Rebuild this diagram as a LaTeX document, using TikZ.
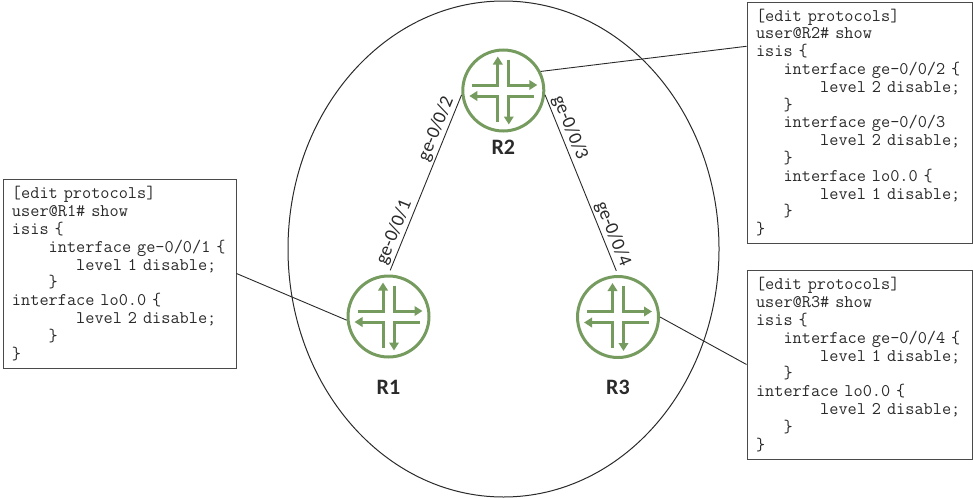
\documentclass[tikz,border=0pt]{standalone}
\usepackage{fontspec}
\newfontfamily\codefont{Latin Modern Mono}
\newfontfamily\labfont{Carlito}
\usetikzlibrary{shapes.geometric,arrows.meta}
\definecolor{rgreen}{HTML}{769B5F}
\definecolor{ink}{HTML}{2A2A2A}
\newcommand\ind[1]{\hspace*{#1\fontcharwd\font`0 }}
\newcommand\routerx[1]{%
  \draw[xarrow] ([shift={(-31,-5.5)}]#1.center) -- ([shift={(-5.5,-5.5)}]#1.center) -- ([shift={(-5.5,-34)}]#1.center);
  \draw[xarrow] ([shift={(5.5,-31)}]#1.center) -- ([shift={(5.5,-5.5)}]#1.center) -- ([shift={(34,-5.5)}]#1.center);
  \draw[xarrow] ([shift={(-5.5,31)}]#1.center) -- ([shift={(-5.5,5.5)}]#1.center) -- ([shift={(-34,5.5)}]#1.center);
  \draw[xarrow] ([shift={(31,5.5)}]#1.center) -- ([shift={(5.5,5.5)}]#1.center) -- ([shift={(5.5,34)}]#1.center);
}
\begin{document}
\begin{tikzpicture}[x=1pt,y=-1pt,
  router/.style={circle, draw=rgreen, line width=3pt, minimum size=81pt, inner sep=0pt},
  xarrow/.style={draw=rgreen, line width=3pt, -{Triangle[length=8pt,width=9.5pt]}},
  rlab/.style={font=\labfont\bfseries\fontsize{22}{24}\selectfont, text=ink},
  llab/.style={font=\labfont\fontsize{19}{21}\selectfont, text=ink, sloped, above, inner sep=2pt},
  link/.style={draw=ink, line width=0.9pt},
  codebox/.style={draw=ink!85, line width=1pt, align=left, inner xsep=9pt, inner ysep=0pt,
    font=\codefont\fontsize{17.8}{17.8}\selectfont, text=ink},
]
\useasboundingbox (0,0) rectangle (973,498);

\node[draw=ink, line width=1pt, ellipse, minimum width=431pt, minimum height=496pt, inner sep=0pt] (area) at (503.5,249) {};

\node[router] (R1) at (388.5,316.5) {};
\node[router] (R2) at (503.3,90.5) {};
\node[router] (R3) at (618,317) {};
\routerx{R1}
\routerx{R2}
\routerx{R3}

\node[rlab] (R1t) at ([yshift=-70.5pt]R1.center) {R1};
\node[rlab] (R2t) at ([yshift=-56.5pt]R2.center) {R2};
\node[rlab] (R3t) at ([yshift=-70pt]R3.center) {R3};

\node[codebox, minimum width=233pt, minimum height=189pt, text width=215pt] (box1) at (119.5,273.5) {%
[edit protocols]\\
user@R1\# show\\
isis \{\\
\ind{4}interface ge-0/0/1 \{\\
\ind{7}level 1 disable;\\
\ind{4}\}\\
interface lo0.0 \{\\
\ind{7}level 2 disable;\\
\ind{4}\}\\
\}};

\node[codebox, minimum width=225pt, minimum height=241pt, text width=207pt] (box2) at (859.5,122.5) {%
[edit protocols]\\
user@R2\# show\\
isis \{\\
\ind{3}interface ge-0/0/2 \{\\
\ind{7}level 2 disable;\\
\ind{3}\}\\
\ind{3}interface ge-0/0/3\\
\ind{7}level 2 disable;\\
\ind{3}\}\\
\ind{3}interface lo0.0 \{\\
\ind{7}level 1 disable;\\
\ind{3}\}\\
\}};

\node[codebox, minimum width=225pt, minimum height=189pt, text width=207pt] (box3) at (859.5,364.5) {%
[edit protocols]\\
user@R3\# show\\
isis \{\\
\ind{3}interface ge-0/0/4 \{\\
\ind{7}level 1 disable;\\
\ind{3}\}\\
interface lo0.0 \{\\
\ind{7}level 2 disable;\\
\ind{3}\}\\
\}};

\draw[link, shorten <=4.5pt] (R1.north) -- (R2.186)
  node[llab, pos=0.214] (l1) {ge-0/0/1}
  node[llab, pos=0.788] (l2) {ge-0/0/2};
\draw[link, shorten >=4.5pt] (R2.-6) -- (R3.north)
  node[llab, pos=0.204] (l3) {ge-0/0/3}
  node[llab, pos=0.794] (l4) {ge-0/0/4};

\draw[link] (box1.east) -- (R1.185);
\draw[link] (R2.27) -- (box2.146.5);
\draw[link] (R3.east) -- (box3.west);
\end{tikzpicture}
\end{document}
